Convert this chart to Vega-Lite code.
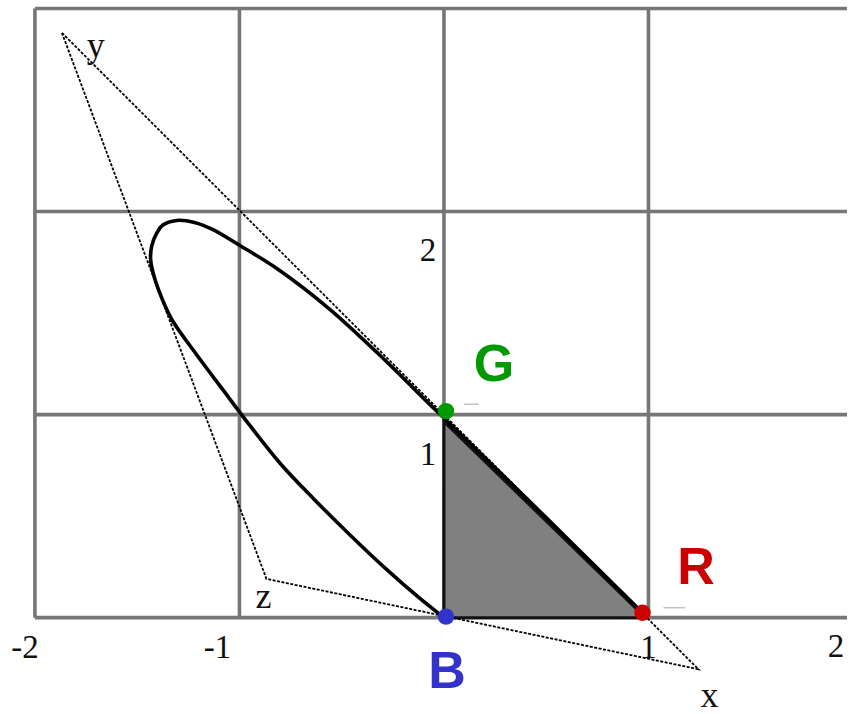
{
  "$schema": "https://vega.github.io/schema/vega-lite/v6.json",
  "width": 849,
  "height": 714,
  "padding": 0,
  "autosize": {"type": "fit", "contains": "padding"},
  "background": "white",
  "config": {"view": {"stroke": null}},
  "encoding": {
    "x": {"field": "x", "type": "quantitative", "scale": {"domain": [-2.1707, 1.9707], "nice": false, "zero": false}, "axis": null},
    "y": {"field": "y", "type": "quantitative", "scale": {"domain": [-0.4499, 3.0416], "nice": false, "zero": false}, "axis": null}
  },
  "layer": [
    {
      "data": {"values": [
        {"x": -2, "y": 0, "x2": -2, "y2": 3},
        {"x": -1, "y": 0, "x2": -1, "y2": 3},
        {"x": 0, "y": 0, "x2": 0, "y2": 3},
        {"x": 1, "y": 0, "x2": 1, "y2": 3},
        {"x": -2, "y": 0, "x2": 1.9707, "y2": 0},
        {"x": -2, "y": 1, "x2": 1.9707, "y2": 1},
        {"x": -2, "y": 2, "x2": 1.9707, "y2": 2},
        {"x": -2, "y": 3, "x2": 1.9707, "y2": 3}
      ]},
      "mark": {"type": "rule", "color": "#767676", "strokeWidth": 3.6},
      "encoding": {"x2": {"field": "x2"}, "y2": {"field": "y2"}}
    },
    {
      "data": {"values": [
        {"x": 0, "y": 0.965, "y2": 0},
        {"x": 0.965, "y": 0.02, "y2": 0}
      ]},
      "mark": {"type": "area", "color": "#808080", "stroke": "#111111", "strokeWidth": 3, "opacity": 1},
      "encoding": {"y2": {"field": "y2"}}
    },
    {
      "data": {"values": [
        {"o": 1, "x": -1.868, "y": 2.880},
        {"o": 2, "x": 1.244, "y": -0.254},
        {"o": 3, "x": -0.868, "y": 0.191},
        {"o": 4, "x": -1.868, "y": 2.880}
      ]},
      "mark": {"type": "line", "color": "#000000", "strokeWidth": 1.8, "strokeDash": [3, 1.5]},
      "encoding": {"order": {"field": "o", "type": "quantitative"}}
    },
    {
      "data": {"values": [
        {"o": 1, "x": 0, "y": 0},
        {"o": 2, "x": -0.122, "y": 0.098},
        {"o": 3, "x": -0.278, "y": 0.235},
        {"o": 4, "x": -0.463, "y": 0.411},
        {"o": 5, "x": -0.634, "y": 0.582},
        {"o": 6, "x": -0.795, "y": 0.753},
        {"o": 7, "x": -0.951, "y": 0.949},
        {"o": 8, "x": -1.083, "y": 1.125},
        {"o": 9, "x": -1.21, "y": 1.296},
        {"o": 10, "x": -1.327, "y": 1.462},
        {"o": 11, "x": -1.376, "y": 1.565},
        {"o": 12, "x": -1.415, "y": 1.672},
        {"o": 13, "x": -1.434, "y": 1.76},
        {"o": 14, "x": -1.429, "y": 1.83},
        {"o": 15, "x": -1.405, "y": 1.892},
        {"o": 16, "x": -1.376, "y": 1.932},
        {"o": 17, "x": -1.307, "y": 1.956},
        {"o": 18, "x": -1.22, "y": 1.946},
        {"o": 19, "x": -1.132, "y": 1.912},
        {"o": 20, "x": -1.0, "y": 1.834},
        {"o": 21, "x": -0.805, "y": 1.711},
        {"o": 22, "x": -0.561, "y": 1.521},
        {"o": 23, "x": -0.317, "y": 1.296},
        {"o": 24, "x": -0.073, "y": 1.054},
        {"o": 25, "x": 0, "y": 0.983},
        {"o": 26, "x": 0.488, "y": 0.504},
        {"o": 27, "x": 0.971, "y": 0.024}
      ]},
      "mark": {"type": "line", "color": "#000000", "strokeWidth": 3.6, "interpolate": "catmull-rom"},
      "encoding": {"order": {"field": "o", "type": "quantitative"}}
    },
    {
      "data": {"values": [
        {"x": 0.098, "y": 1.051, "x2": 0.17},
        {"x": 1.073, "y": 0.049, "x2": 1.18}
      ]},
      "mark": {"type": "rule", "color": "#c4c4c4", "strokeWidth": 1.5},
      "encoding": {"x2": {"field": "x2"}}
    },
    {
      "data": {"values": [
        {"label": "-2", "x": -2.049, "y": -0.2},
        {"label": "-1", "x": -1.107, "y": -0.2},
        {"label": "1", "x": 1.0, "y": -0.2},
        {"label": "2", "x": 1.917, "y": -0.196},
        {"label": "2", "x": -0.078, "y": 1.756},
        {"label": "1", "x": -0.078, "y": 0.753}
      ]},
      "mark": {"type": "text", "font": "Liberation Serif", "fontSize": 33, "align": "center", "baseline": "alphabetic", "color": "#111111"},
      "encoding": {"text": {"field": "label"}}
    },
    {
      "data": {"values": [
        {"label": "y", "x": -1.702, "y": 2.763},
        {"label": "z", "x": -0.883, "y": 0.049},
        {"label": "x", "x": 1.298, "y": -0.44}
      ]},
      "mark": {"type": "text", "font": "Liberation Serif", "fontSize": 36, "align": "center", "baseline": "alphabetic", "color": "#111111"},
      "encoding": {"text": {"field": "label"}}
    },
    {
      "data": {"values": [
        {"name": "G", "x": 0.01, "y": 1.017},
        {"name": "B", "x": 0.01, "y": 0.005},
        {"name": "R", "x": 0.971, "y": 0.024}
      ]},
      "mark": {"type": "point", "filled": true, "size": 270, "opacity": 1},
      "encoding": {"color": {"field": "name", "type": "nominal", "scale": {"domain": ["R", "G", "B"], "range": ["#cc0000", "#009900", "#3333cc"]}, "legend": null}}
    },
    {
      "data": {"values": [
        {"name": "G", "x": 0.244, "y": 1.164},
        {"name": "R", "x": 1.232, "y": 0.166},
        {"name": "B", "x": 0.015, "y": -0.347}
      ]},
      "mark": {"type": "text", "font": "Liberation Sans", "fontWeight": "bold", "fontSize": 52, "align": "center", "baseline": "alphabetic"},
      "encoding": {
        "text": {"field": "name"},
        "color": {"field": "name", "type": "nominal", "scale": {"domain": ["R", "G", "B"], "range": ["#cc0000", "#009900", "#3333cc"]}, "legend": null}
      }
    }
  ]
}
